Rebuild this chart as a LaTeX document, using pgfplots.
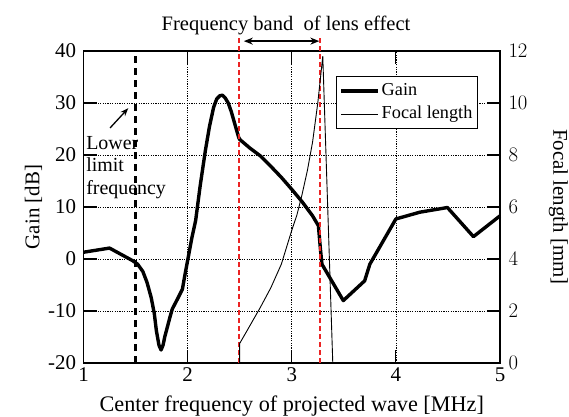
\documentclass[border=0pt]{standalone}
\usepackage{fontspec}
\setmainfont{Liberation Serif}
\usepackage{pgfplots}
\pgfplotsset{compat=1.18}
\usetikzlibrary{arrows.meta}

\definecolor{bandred}{RGB}{235,35,35}

% gain [dB] vs centre frequency [MHz]
\pgfplotstableread{
f     g
1.00  1.3
1.25  2.1
1.47  -0.3
1.52  -1.0
1.57  -2.4
1.61  -4.5
1.65  -7.4
1.68  -10.5
1.70  -13.8
1.725 -16.6
1.745 -17.5
1.765 -16.5
1.78  -15.0
1.80  -13.5
1.83  -11.2
1.853 -9.6
1.90  -7.8
1.95  -5.8
1.97  -3.5
2.00  -0.3
2.04  4.0
2.077 7.4
2.12  14.0
2.17  20.8
2.21  25.5
2.25  29.2
2.28  30.8
2.31  31.4
2.335 31.5
2.36  31.0
2.39  30.0
2.42  28.3
2.46  25.5
2.49  23.4
2.50  23.0
2.60  21.3
2.70  19.8
2.80  17.8
2.90  15.7
3.00  13.4
3.10  11.0
3.20  8.3
3.256 6.4
3.275 2.0
3.29  -1.0
3.495 -8.0
3.70  -4.2
3.75  -1.0
4.00  7.7
4.23  9.0
4.495 9.9
4.745 4.3
5.00  8.3
}\gaintab

% focal length [mm]
\pgfplotstableread{
f     d
2.50  0
2.50  0.75
2.55  1.1
2.60  1.45
2.70  2.15
2.80  2.9
2.90  3.8
3.00  5.1
3.05  5.7
3.10  6.5
3.15  7.4
3.20  8.5
3.25  10.0
3.298 11.8
3.394 0
}\focaltab

\pgfplotsset{
  base/.style={
    scale only axis, width=416.5bp, height=312bp,
    xmin=1, xmax=5,
    at={(0,0)}, anchor=south west,
    tick align=inside, major tick length=13bp,
    axis line style={line width=1.6bp},
    every tick/.style={black,line width=1.2bp},
    font=\fontsize{21}{24}\selectfont,
    label style={font=\fontsize{21}{24}\selectfont},
    clip=false,
  },
}

\begin{document}
\begin{tikzpicture}
\begin{axis}[base,
  ymin=-20, ymax=40,
  ytick={-20,-10,...,40}, yticklabels={-20,-10,0,10,20,30,40},
  xtick={1,2,3,4,5}, xticklabels={1,2,3,4,5},
  ytick pos=left, xtick pos=both,
  grid=major, grid style={black, line width=0.7bp, dash pattern=on 1.2bp off 1.2bp},
  xlabel={Center frequency of projected wave [MHz]},
  ylabel={Gain [dB]},
  xlabel style={at={(axis description cs:0.5,-0.155)}, anchor=base,
    font=\fontsize{22.3}{25}\selectfont},
  ylabel style={at={(axis description cs:-0.12,0.5)}, anchor=center},
  yticklabel style={xshift=-4bp},
  xticklabel style={yshift=-1bp},
]
  \addplot[black, line width=2.2bp, dash pattern=on 7bp off 5bp] coordinates {(1.5,-20) (1.5,40)};
  \addplot[black, line width=3.4bp, line join=round] table[x=f,y=g] {\gaintab};
  \addplot[bandred, line width=1.5bp, dash pattern=on 5bp off 3bp] coordinates {(2.495,-20) (2.495,42.9)};
  \addplot[bandred, line width=1.5bp, dash pattern=on 5bp off 3bp] coordinates {(3.27,-20) (3.27,42.9)};

  \draw[{Stealth[length=9bp,width=7bp]}-{Stealth[length=9bp,width=7bp]}, line width=1.4bp]
    (axis cs:2.54,41.9) -- (axis cs:3.265,41.9);
  \node[anchor=base, font=\fontsize{20.6}{24}\selectfont] at (axis cs:2.945,44.0)
    {Frequency band~ of lens effect};
  \node[anchor=north west, align=left, inner sep=0pt, font=\fontsize{20}{22.5}\selectfont]
    at (axis cs:1.025,23.6) {Lower\\limit\\frequency};
  \draw[-{Stealth[length=8bp,width=6bp]}, line width=1.3bp]
    (axis cs:1.255,25.2) -- (axis cs:1.43,29.0);
\end{axis}

\begin{axis}[base,
  ymin=0, ymax=12, ytick={0,2,...,12},
  axis y line*=right, axis x line=none,
  ylabel={Focal length [mm]},
  ylabel style={at={(axis description cs:1.14,0.5)}, anchor=center, rotate=180},
  yticklabel style={xshift=5bp},
  legend style={at={(0.947,0.92)}, anchor=north east, draw=black, line width=1.1bp,
    fill=white, font=\fontsize{18.3}{21}\selectfont, row sep=0bp,
    inner xsep=3bp, inner ysep=3bp,
    nodes={inner xsep=2bp, inner ysep=3bp, text height=13bp, text depth=4bp}},
  legend cell align=left,
  legend image code/.code={\draw[#1] (0cm,0cm) -- (1.3cm,0cm);},
]
  \addlegendimage{black, line width=3.4bp}
  \addlegendentry{Gain}
  \addplot[black, line width=0.9bp] table[x=f,y=d] {\focaltab};
  \addlegendentry{Focal length}
\end{axis}
\pgfresetboundingbox
\path[use as bounding box] (-83.5bp,-54bp) rectangle (485.5bp,363bp);
\end{tikzpicture}
\end{document}
